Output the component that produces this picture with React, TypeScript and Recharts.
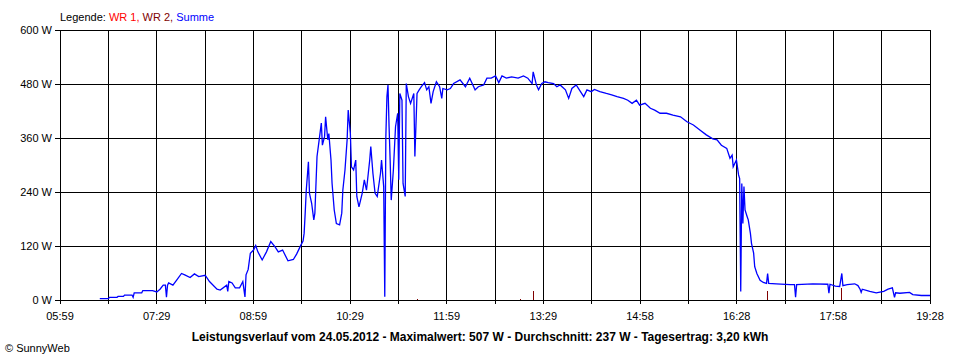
import { CartesianGrid, Line, LineChart, XAxis, YAxis } from "recharts";

// minutes since midnight -> W (Summe)
const summeTimes = [
  396, 404, 405, 412, 413, 418, 419, 426, 427, 428, 435, 436, 444, 445, 449, 452, 455, 457, 458, 459,
  460, 464, 468, 472, 475, 480, 484, 488, 494, 498, 505, 508, 514, 515, 516, 519, 522, 526, 529, 531,
  532, 534, 536, 539, 541, 543, 547, 551, 555, 559, 562, 566, 571, 576, 579, 583, 585, 586, 587, 588,
  590, 591, 593, 595, 596, 598, 600, 602, 603, 605, 606, 608, 609, 611, 612, 614, 616, 619, 621, 622,
  624, 626, 627, 629, 630, 632, 634, 635, 637, 640, 642, 644, 647, 648, 650, 652, 654, 657, 658, 660,
  661, 662, 663, 664, 665, 666, 667, 669, 671, 673, 674, 675, 677, 678, 680, 681, 683, 685, 688, 689,
  691, 693, 695, 698, 700, 702, 704, 706, 709, 712, 714, 715, 719, 722, 725, 731, 736, 740, 745, 748,
  753, 756, 760, 764, 767, 770, 774, 779, 785, 790, 794, 798, 799, 802, 804, 807, 810, 813, 818, 821,
  824, 829, 832, 835, 839, 843, 846, 849, 853, 856, 861, 867, 872, 877, 883, 887, 891, 895, 898, 903,
  908, 912, 917, 923, 929, 936, 942, 948, 954, 960, 966, 970, 974, 979, 982, 984, 985, 988, 990, 991,
  992, 993, 994, 995, 996, 998, 999, 1001, 1002, 1004, 1005, 1007, 1010, 1013, 1016, 1017, 1018, 1025, 1038, 1042,
  1043, 1044, 1059, 1073, 1074, 1075, 1080, 1084, 1086, 1087, 1091, 1098, 1101, 1103, 1104, 1105, 1112, 1118, 1125, 1129,
  1133, 1135, 1136, 1140, 1149, 1152, 1160, 1168,
];
const summeWatts = [
  3, 3, 6, 6, 8, 8, 11, 11, 6, 16, 16, 21, 21, 21, 18, 24, 33, 33, 6, 33,
  38, 33, 46, 59, 56, 50, 58, 52, 55, 41, 24, 22, 33, 19, 41, 38, 27, 27, 41, 7,
  56, 68, 104, 111, 121, 107, 89, 107, 130, 118, 107, 111, 87, 90, 102, 122, 131, 148, 193, 244,
  307, 237, 215, 178, 193, 319, 356, 393, 344, 363, 407, 356, 370, 311, 259, 200, 170, 167, 193, 244,
  289, 356, 422, 370, 296, 289, 311, 230, 207, 237, 267, 244, 311, 341, 281, 237, 230, 281, 311, 252,
  7, 363, 452, 478, 385, 311, 222, 289, 385, 415, 267, 459, 444, 259, 230, 481, 452, 437, 459, 319,
  459, 467, 474, 483, 467, 474, 437, 463, 485, 474, 448, 470, 467, 470, 481, 489, 474, 493, 467, 474,
  478, 493, 493, 498, 483, 498, 493, 496, 493, 498, 493, 481, 507, 478, 467, 481, 485, 483, 481, 474,
  478, 467, 448, 470, 478, 463, 452, 467, 463, 468, 463, 459, 456, 452, 448, 444, 437, 444, 433, 437,
  426, 422, 415, 415, 411, 407, 396, 389, 378, 367, 358, 356, 344, 337, 315, 322, 296, 311, 278, 270,
  19, 259, 170, 252, 200, 185, 178, 148, 126, 104, 74, 59, 44, 39, 37, 59, 37, 36, 34, 34,
  6, 34, 36, 35, 15, 35, 31, 30, 59, 32, 34, 36, 32, 24, 17, 24, 19, 16, 19, 24,
  27, 6, 16, 15, 17, 12, 10, 10,
];

// WR 2 short spikes
const wr2Times = [691, 787, 799, 1017, 1086];
const wr2Watts = [3, 2, 20, 20, 26];

const xTickLabels = [
  "05:59", "", "07:29", "", "08:59", "", "10:29", "", "11:59", "",
  "13:29", "", "14:58", "", "16:28", "", "17:58", "", "19:28",
];
const yTicks = [0, 120, 240, 360, 480, 600];

const START = 359;
const END = 1168;
const xTicks = xTickLabels.map((_, i) => START + (i * (END - START)) / 18);

const summeData = summeTimes.map((t, i) => ({ t, w: summeWatts[i] }));
const wr2Data: { t: number; w: number | null }[] = [];
wr2Times.forEach((t, i) => {
  wr2Data.push({ t, w: 0 }, { t, w: wr2Watts[i] }, { t, w: null });
});

const font = "Arial, 'Liberation Sans', sans-serif";
const crisp = { stroke: "#000", shapeRendering: "crispEdges" };

export default function App() {
  return (
    <div style={{ position: "absolute", left: 0, top: 0, width: 960, height: 360, background: "#fff", fontFamily: font }}>
      <div style={{ position: "absolute", left: 60, top: 10, fontSize: 11, lineHeight: "14px" }}>
        <span style={{ color: "#000" }}>Legende: </span>
        <span style={{ color: "#ff0000" }}>WR 1, </span>
        <span style={{ color: "#800000" }}>WR 2, </span>
        <span style={{ color: "#0000ff" }}>Summe</span>
      </div>
      <LineChart width={960} height={360} margin={{ top: 30, right: 30, bottom: 0, left: 0 }}>
        <CartesianGrid stroke="#000" strokeOpacity={1} shapeRendering="crispEdges" />
        <XAxis
          type="number"
          dataKey="t"
          domain={[START, END]}
          ticks={xTicks}
          interval={0}
          height={60}
          tickSize={4}
          tickMargin={8}
          tickFormatter={(_v: number, i: number) => xTickLabels[i]}
          stroke="#000"
          axisLine={crisp}
          tickLine={crisp}
          tick={{ fill: "#000", fontSize: 11, fontFamily: font }}
          allowDataOverflow
        />
        <YAxis
          type="number"
          domain={[0, 600]}
          ticks={yTicks}
          width={60}
          tickSize={5}
          tickMargin={3}
          tickFormatter={(v: number) => `${v} W`}
          stroke="#000"
          axisLine={crisp}
          tickLine={crisp}
          tick={{ fill: "#000", fontSize: 11, fontFamily: font }}
        />
        <Line data={wr2Data} dataKey="w" stroke="#800000" strokeWidth={1} dot={false} isAnimationActive={false} connectNulls={false} shapeRendering="crispEdges" />
        <Line data={summeData} dataKey="w" stroke="#0000ff" strokeWidth={1.3} dot={false} isAnimationActive={false} />
      </LineChart>
      <div style={{ position: "absolute", left: 0, width: 960, top: 330, textAlign: "center", fontSize: 12, fontWeight: "bold", lineHeight: "15px" }}>
        Leistungsverlauf vom 24.05.2012 - Maximalwert: 507 W - Durchschnitt: 237 W - Tagesertrag: 3,20 kWh
      </div>
      <div style={{ position: "absolute", left: 5, top: 341, fontSize: 11, lineHeight: "14px" }}>© SunnyWeb</div>
    </div>
  );
}
